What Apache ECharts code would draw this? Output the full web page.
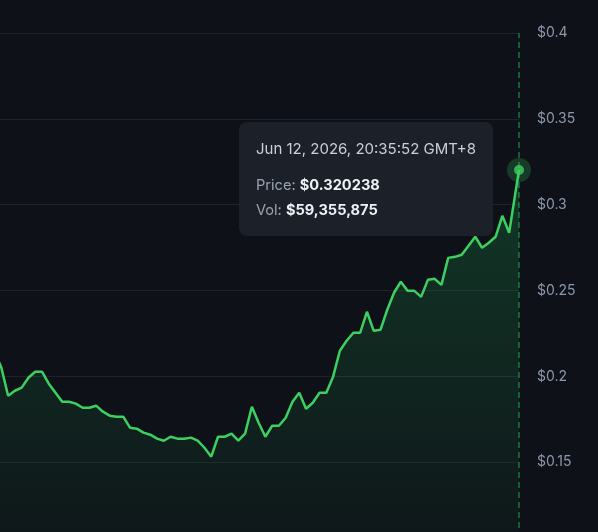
<!DOCTYPE html>
<html>
<head>
<meta charset="utf-8">
<script src="https://cdn.jsdelivr.net/npm/echarts@6/dist/echarts.min.js"></script>
<style>
  html, body { margin: 0; padding: 0; background: #0e1218; }
  #chart { width: 598px; height: 532px; }
</style>
</head>
<body>
<div id="chart"></div>
<script>
// price every 15 minutes (USD)
var prices = [
  0.2143, 0.2050,
  0.1887, 0.1916, 0.1934, 0.1992, 0.2027, 0.2027, 0.1957, 0.1905, 0.1852, 0.1852,
  0.1841, 0.1817, 0.1817, 0.1829, 0.1794, 0.1771, 0.1765, 0.1765, 0.1701, 0.1695,
  0.1672, 0.1660, 0.1637, 0.1625, 0.1648, 0.1637, 0.1637, 0.1643, 0.1625, 0.1584,
  0.1532, 0.1648, 0.1648, 0.1666, 0.1625, 0.1666, 0.1823, 0.1730, 0.1648, 0.1712,
  0.1712, 0.1759, 0.1852, 0.1905, 0.1811, 0.1846, 0.1905, 0.1905, 0.1998, 0.2149,
  0.2207, 0.2254, 0.2254, 0.2376, 0.2265, 0.2271, 0.2388, 0.2487, 0.2551, 0.2498,
  0.2498, 0.2463, 0.2562, 0.2568, 0.2533, 0.2690, 0.2696, 0.2708, 0.2760, 0.2813,
  0.2749, 0.2778, 0.2813, 0.2935, 0.2836
];
var lastRegularTime = Date.parse('2026-06-12T12:14:00Z');
var stepMs = 15 * 60 * 1000;

// live point shown in the tooltip
var liveTime = Date.parse('2026-06-12T12:35:52Z');
var liveLabel = 'Jun 12, 2026, 20:35:52 GMT+8';
var livePrice = 0.320238;
var liveVolume = 59355875;

// visible window and y ticks
var viewStart = Date.parse('2026-06-11T17:26:00Z');
var yTicks = [0.1, 0.15, 0.2, 0.25, 0.3, 0.35, 0.4];

var green = '#3dd061';
var dashGreen = '#1fa64a';
var font = 'Inter, "Noto Sans", sans-serif';

var lineData = prices.map(function (p, i) {
  return [lastRegularTime - (prices.length - 1 - i) * stepMs, p];
});
lineData.push([liveTime, livePrice]);

var yMin = yTicks[0];
var yMax = yTicks[yTicks.length - 1];

var myChart = echarts.init(document.getElementById('chart'));

var option = {
  backgroundColor: '#0e1218',
  animation: false,
  // the $0.1 line sits just below the visible area
  grid: { left: 0, right: 79, top: 33, height: 515, outerBoundsMode: 'none', containLabel: false },
  xAxis: {
    type: 'time',
    min: viewStart,
    max: liveTime,
    show: false,
    axisPointer: { show: false }
  },
  yAxis: {
    type: 'value',
    position: 'right',
    min: yMin,
    max: yMax,
    interval: yTicks[1] - yTicks[0],
    axisLine: { show: false },
    axisTick: { show: false },
    axisPointer: { show: false },
    axisLabel: {
      color: '#8d98aa',
      fontSize: 14,
      fontFamily: font,
      margin: 18,
      formatter: function (v) { return '$' + (+v.toFixed(2)); }
    },
    splitLine: { lineStyle: { color: '#1d232c', width: 1 } }
  },
  tooltip: {
    trigger: 'item',
    triggerOn: 'none',
    alwaysShowContent: true,
    position: [239, 122],
    backgroundColor: '#1b2029',
    borderWidth: 0,
    padding: [17, 17, 16, 17],
    extraCssText: 'width:254px;height:114px;box-sizing:border-box;border-radius:8px;box-shadow:none;',
    textStyle: { color: '#c9d0da', fontSize: 14, fontFamily: font },
    formatter: function () {
      return '<div style="line-height:20px;font-size:15px;color:#c9d0da">' + liveLabel + '</div>' +
        '<div style="margin-top:16px;line-height:20px;font-size:14.6px;color:#9aa3b0">Price: ' +
        '<b style="color:#eef1f5">$' + livePrice + '</b></div>' +
        '<div style="margin-top:5px;line-height:20px;font-size:14.6px;color:#9aa3b0">Vol: ' +
        '<b style="color:#eef1f5">$' + liveVolume.toLocaleString('en-US') + '</b></div>';
    }
  },
  series: [
    {
      // dashed hover line at the live point
      type: 'line',
      data: [[liveTime, yMin], [liveTime, yMax]],
      symbol: 'none',
      silent: true,
      tooltip: { show: false },
      emphasis: { disabled: true },
      lineStyle: { color: dashGreen, width: 1, type: [6, 4] },
      z: 1
    },
    {
      type: 'line',
      data: lineData,
      symbol: 'none',
      lineStyle: { color: green, width: 2.5 },
      areaStyle: {
        color: new echarts.graphic.LinearGradient(0, 0, 0, 1, [
          { offset: 0, color: 'rgba(34,197,94,0.3)' },
          { offset: 1, color: 'rgba(34,197,94,0.03)' }
        ])
      },
      emphasis: { disabled: true },
      tooltip: { show: false },
      z: 2
    },
    {
      // halo around live point
      type: 'scatter',
      data: [[liveTime, livePrice]],
      symbolSize: 24,
      itemStyle: { color: 'rgba(61,208,97,0.28)' },
      silent: true,
      emphasis: { disabled: true },
      z: 5
    },
    {
      type: 'scatter',
      data: [[liveTime, livePrice]],
      symbolSize: 10,
      itemStyle: { color: green },
      emphasis: { disabled: true },
      z: 6
    }
  ]
};

myChart.setOption(option);
myChart.dispatchAction({ type: 'showTip', seriesIndex: 3, dataIndex: 0 });
</script>
</body>
</html>
